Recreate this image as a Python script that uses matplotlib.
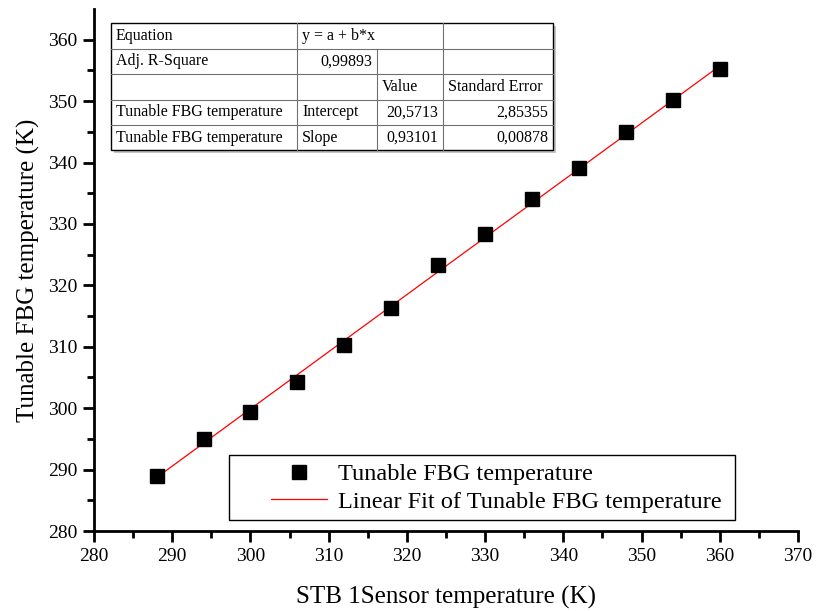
import numpy as np
import matplotlib.pyplot as plt
from matplotlib.patches import Rectangle

plt.rcParams['font.family'] = ['Liberation Serif', 'DejaVu Serif']

# measured points
sensor_t = [288, 294, 300, 306, 312, 318, 324, 330, 336, 342, 348, 354, 360]
fbg_t = [288.9, 295.0, 299.4, 304.2, 310.3, 316.3, 323.3, 328.4, 334.1, 339.1, 345.0, 350.2, 355.2]

# fit results
intercept = 20.5713
slope = 0.93101
intercept_err = 2.85355
slope_err = 0.00878
adj_r2 = 0.99893

W, H = 817, 611
fig = plt.figure(figsize=(W / 100, H / 100), dpi=100)
ax = fig.add_axes([94 / W, 1 - 531 / H, (798 - 94) / W, (531 - 9) / H])


def fx(px):
    return px / W


def fy(py):
    return 1 - py / H


xfit = np.array([sensor_t[0], sensor_t[-1]])
ax.plot(sensor_t, fbg_t, 's', color='black', markersize=9.5, label='Tunable FBG temperature', zorder=3)
ax.plot(xfit, intercept + slope * xfit, '-', color='red', lw=0.9,
        label='Linear Fit of Tunable FBG temperature', zorder=2)

ax.set_xlim(280, 370)
ax.set_ylim(280, 365)
ax.set_xticks(np.arange(280, 371, 10))
ax.set_yticks(np.arange(280, 361, 10))
ax.set_xticks(np.arange(285, 370, 10), minor=True)
ax.set_yticks(np.arange(285, 365, 10), minor=True)
ax.spines['top'].set_visible(False)
ax.spines['right'].set_visible(False)
for s in ['left', 'bottom']:
    ax.spines[s].set_linewidth(2)
ax.tick_params(which='major', direction='out', length=8, width=2, labelsize=14, pad=4)
ax.tick_params(which='minor', direction='out', length=5, width=2)

ax.set_xlabel('STB 1Sensor temperature (K)', fontsize=18, labelpad=15)
ax.set_ylabel('Tunable FBG temperature (K)', fontsize=18, labelpad=6)

# legend with its own frame
ax.add_patch(Rectangle((fx(229), fy(520)), (735 - 229) / W, (520 - 455) / H,
                       transform=fig.transFigure, facecolor='white', edgecolor='black',
                       lw=1.0, zorder=4, clip_on=False))
leg = ax.legend(loc='center left', bbox_to_anchor=(fx(259), fy(488)),
                bbox_transform=fig.transFigure, fontsize=17.5, frameon=False,
                handlelength=2.3, borderpad=0, labelspacing=0.22, handletextpad=0.45)
leg.set_zorder(5)

# fit results table, drawn in figure pixels
cols = [111, 297, 377, 443, 553]
rows = [23, 48.5, 74, 99.5, 125, 150.5]

tab_w = cols[-1] - cols[0]
tab_h = rows[-1] - rows[0]
fig.add_artist(Rectangle((fx(cols[0] + 3), fy(rows[-1] + 3)), tab_w / W, tab_h / H,
                         facecolor='#c4c4c4', edgecolor='none', zorder=4))
fig.add_artist(Rectangle((fx(cols[0]), fy(rows[-1])), tab_w / W, tab_h / H,
                         facecolor='white', edgecolor='black', lw=1.0, zorder=5))
for r in rows[1:-1]:
    fig.add_artist(plt.Line2D([fx(cols[0]), fx(cols[-1])], [fy(r), fy(r)],
                              color='#707070', lw=0.8, zorder=6))
for i, c in enumerate(cols[1:-1], start=1):
    top = rows[1] if i == 2 else rows[0]
    fig.add_artist(plt.Line2D([fx(c), fx(c)], [fy(top), fy(rows[-1])],
                              color='#707070', lw=0.8, zorder=6))

cells = [
    ['Equation', 'y = a + b*x', '', ''],
    ['Adj. R-Square', f'{adj_r2:.5f}'.replace('.', ','), '', ''],
    ['', '', 'Value', 'Standard Error'],
    ['Tunable FBG temperature', 'Intercept', f'{intercept:.4f}'.replace('.', ','),
     f'{intercept_err:.5f}'.replace('.', ',')],
    ['Tunable FBG temperature', 'Slope', f'{slope:.5f}'.replace('.', ','),
     f'{slope_err:.5f}'.replace('.', ',')],
]
right_cells = {(1, 1), (3, 2), (3, 3), (4, 2), (4, 3)}
for ri, row in enumerate(cells):
    yc = (rows[ri] + rows[ri + 1]) / 2
    for ci, txt in enumerate(row):
        if not txt:
            continue
        if (ri, ci) in right_cells:
            fig.text(fx(cols[ci + 1] - 5), fy(yc), txt, ha='right', va='center',
                     fontsize=11.5, zorder=7)
        else:
            fig.text(fx(cols[ci] + 5), fy(yc), txt, ha='left', va='center',
                     fontsize=11.5, zorder=7)

fig.savefig('out.png', dpi=100)
